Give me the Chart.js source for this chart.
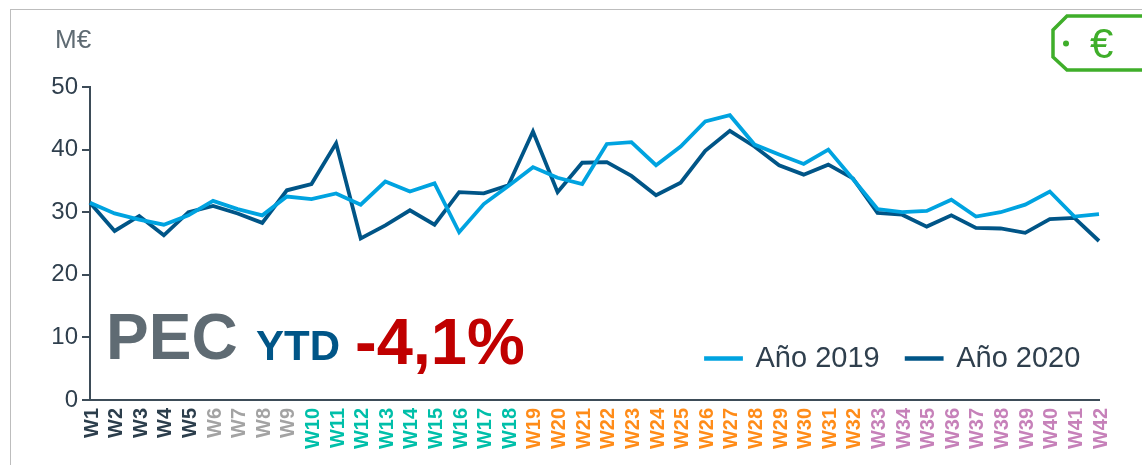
<!DOCTYPE html>
<html><head><meta charset="utf-8">
<script src="https://cdn.jsdelivr.net/npm/chart.js@4"></script>
<style>
html,body{margin:0;padding:0;background:#fff;width:1142px;height:465px;overflow:hidden;font-family:"Liberation Sans",Arial,sans-serif}
#wrap{position:relative;width:1142px;height:465px}
canvas{position:absolute;left:0;top:0}
#frame{position:absolute;left:10px;top:9px;width:1132px;height:456px;border-left:1px solid #bdbdbd;border-top:1px solid #bdbdbd;box-sizing:border-box}
.t{position:absolute;white-space:nowrap;line-height:1}
svg{position:absolute;left:1040px;top:5px}
</style></head>
<body><div id="wrap">
<canvas id="c" width="1142" height="465"></canvas>
<div id="frame"></div>
<div class="t" style="left:55px;top:26px;font-size:26px;color:#5f6b73">M€</div>
<div class="t" style="left:106px;top:305px;font-size:64px;font-weight:bold;color:#5f6b73">PEC</div>
<div class="t" style="left:256px;top:325px;font-size:42px;font-weight:bold;color:#005587">YTD</div>
<div class="t" style="left:355px;top:309px;font-size:65px;font-weight:bold;color:#c00000">-4,1%</div>
<svg width="102" height="72" viewBox="0 0 102 72">
<path d="M102 11H27L13 25V52L27 65H102" fill="none" stroke="#3fae2a" stroke-width="3.500"/>
<circle cx="26" cy="38.500" r="3" fill="#3fae2a"/>
<text x="50" y="53" font-family="Liberation Sans" font-size="42" fill="#3fae2a">€</text>
</svg>
</div>
<script>
const categories=["W1","W2","W3","W4","W5","W6","W7","W8","W9","W10","W11","W12","W13","W14","W15","W16","W17","W18","W19","W20","W21","W22","W23","W24","W25","W26","W27","W28","W29","W30","W31","W32","W33","W34","W35","W36","W37","W38","W39","W40","W41","W42"];
const year2019=[31.5,29.8,28.8,28,29.5,31.8,30.5,29.5,32.5,32.1,33,31.2,34.9,33.3,34.6,26.8,31.3,34.2,37.2,35.5,34.5,40.9,41.2,37.5,40.5,44.5,45.5,40.8,39.2,37.7,40,35.3,30.5,30,30.2,32,29.3,30,31.2,33.3,29.3,29.7];
const year2020=[31.5,27,29.4,26.3,30,31,29.8,28.3,33.5,34.5,41,25.8,27.9,30.3,28,33.2,33,34.3,42.9,33.2,37.9,38,35.8,32.7,34.7,39.8,43,40.5,37.5,36,37.6,35.4,29.9,29.6,27.7,29.5,27.5,27.4,26.7,28.9,29.1,25.4];
const tickColors=[...Array(5).fill("#2c3e4c"),...Array(4).fill("#a3a3a3"),...Array(9).fill("#00bfa9"),...Array(14).fill("#ff8c19"),...Array(10).fill("#c681b9")];
const axisColor="#3d4c58";
const legendMove={id:"legendMove",
 beforeLayout(chart){const l=chart.legend;if(!l._w){l._w=1;const f=l.fit;l.fit=function(){f.call(this);this.height=0;};}},
 afterLayout(chart){const l=chart.legend;l.left=679;l.right=1140;l.top=317;l.bottom=390;l.width=461;l.height=73;}
};
new Chart(document.getElementById("c"),{
 type:"line",
 data:{labels:categories,datasets:[
  {label:"Año 2019",data:year2019,borderColor:"#00a3e0",backgroundColor:"#00a3e0",borderWidth:3.8,pointRadius:0,tension:0},
  {label:"Año 2020",data:year2020,borderColor:"#005587",backgroundColor:"#005587",borderWidth:3.8,pointRadius:0,tension:0}]},
 options:{responsive:false,animation:false,
  layout:{padding:{top:87,right:43,left:0,bottom:0}},
  plugins:{tooltip:{enabled:false},
   legend:{position:"bottom",align:"start",labels:{boxWidth:35,boxHeight:0.5,padding:27,color:"#2f3f4d",font:{family:"Liberation Sans",size:29}}}},
  scales:{
   x:{offset:false,border:{color:axisColor,width:2},grid:{display:false},
      afterFit(s){s.height=65;},
      ticks:{autoSkip:false,minRotation:90,maxRotation:90,padding:0,labelOffset:2,color:c=>tickColors[c.index],font:{family:"Liberation Sans",size:20,weight:"bold"}}},
   y:{min:0,max:50,border:{color:axisColor,width:2},
      grid:{drawOnChartArea:false,drawTicks:true,tickLength:8,color:axisColor,lineWidth:2},
      afterFit(s){s.width=90;},
      ticks:{stepSize:10,padding:4,color:"#2f3f4d",font:{family:"Liberation Sans",size:24}}}
  }},
 plugins:[legendMove]
});
</script></body></html>
